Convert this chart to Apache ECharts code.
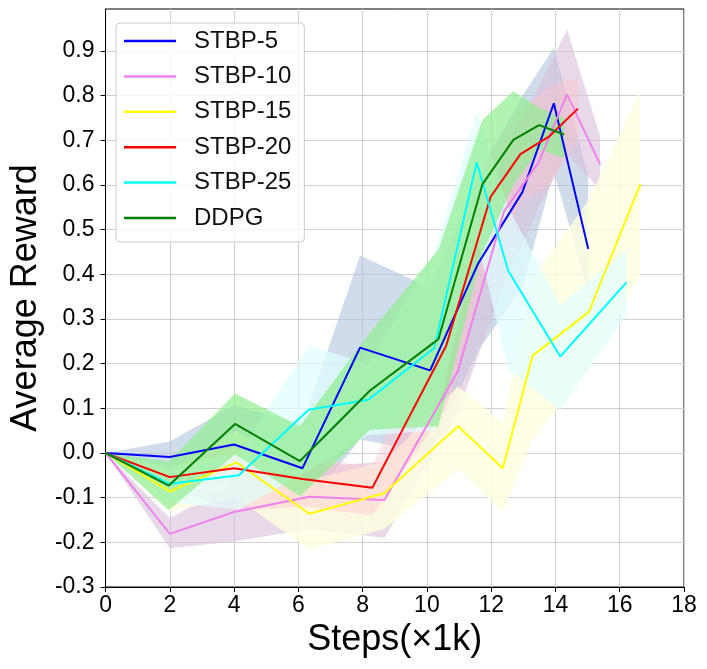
<!DOCTYPE html>
<html>
<head>
<meta charset="utf-8">
<script src="https://cdn.jsdelivr.net/npm/echarts@6/dist/echarts.min.js"></script>
<style>html,body{margin:0;padding:0;background:#fff;}#c{width:707px;height:669px;}</style>
</head>
<body>
<div id="c"></div>
<script>
// ---- data ----
const names = ['STBP-5', 'STBP-10', 'STBP-15', 'STBP-20', 'STBP-25', 'DDPG'];

const x5 = [0, 2, 4, 6.13, 7.92, 10.1, 11.6, 12.97, 13.95, 15.02];
const y5 = [0, -0.009, 0.019, -0.034, 0.236, 0.185, 0.425, 0.584, 0.783, 0.457];
const up5 = [0, 0.026, 0.107, 0.065, 0.442, 0.37, 0.62, 0.80, 0.907, 0.62];
const lo5 = [0, -0.045, -0.07, -0.13, 0.03, 0.0, 0.23, 0.37, 0.63, 0.36];

const x10 = [0, 2, 4, 6.34, 8.68, 10.96, 12.4, 13.48, 14.36, 15.39];
const y10 = [0, -0.181, -0.132, -0.098, -0.105, 0.183, 0.541, 0.651, 0.803, 0.646];
const up10 = [0, -0.146, -0.066, -0.03, -0.02, 0.28, 0.68, 0.82, 0.948, 0.709];
const lo10 = [0, -0.213, -0.198, -0.17, -0.19, 0.09, 0.38, 0.55, 0.67, 0.589];

const x15 = [0, 2, 4.07, 6.34, 8.67, 10.97, 12.36, 13.29, 15.04, 16.64];
const y15 = [0, -0.086, -0.021, -0.136, -0.09, 0.06, -0.034, 0.218, 0.316, 0.602];
const up15 = [0, -0.04, 0.05, -0.06, -0.02, 0.149, 0.068, 0.39, 0.567, 0.81];
const lo15 = [0, -0.13, -0.1, -0.216, -0.17, -0.037, -0.131, 0.03, 0.186, 0.40];

const x20 = [0, 2, 4, 6.13, 8.3, 10.6, 11.98, 12.91, 13.81, 14.7];
const y20 = [0, -0.054, -0.034, -0.058, -0.078, 0.24, 0.573, 0.669, 0.709, 0.771];
const up20 = [0, -0.03, 0.02, -0.01, -0.03, 0.36, 0.68, 0.77, 0.82, 0.84];
const lo20 = [0, -0.08, -0.13, -0.12, -0.14, 0.10, 0.42, 0.56, 0.60, 0.70];

const x25 = [0, 2, 4.15, 6.32, 8.17, 10.23, 11.55, 12.53, 14.15, 16.21];
const y25 = [0, -0.069, -0.05, 0.097, 0.119, 0.235, 0.651, 0.408, 0.216, 0.382];
const up25 = [0, -0.03, 0.0, 0.24, 0.20, 0.448, 0.762, 0.55, 0.33, 0.455];
const lo25 = [0, -0.11, -0.127, -0.04, 0.04, 0.05, 0.48, 0.187, 0.097, 0.31];

const xD = [0, 1.97, 4.03, 6.05, 8.23, 10.36, 11.73, 12.69, 13.49, 14.27];
const yD = [0, -0.073, 0.065, -0.018, 0.14, 0.255, 0.602, 0.701, 0.734, 0.713];
const upD = [0, -0.019, 0.133, 0.06, 0.27, 0.455, 0.746, 0.81, 0.773, 0.75];
const loD = [0, -0.128, -0.003, -0.097, 0.052, 0.06, 0.45, 0.60, 0.68, 0.66];

const xTicks = [0, 2, 4, 6, 8, 10, 12, 14, 16, 18];
const yTicks = [-0.3, -0.2, -0.1, 0.0, 0.1, 0.2, 0.3, 0.4, 0.5, 0.6, 0.7, 0.8, 0.9];

// ---- styles ----
const lineColors = ['#0000ff', '#ee82ee', '#ffff00', '#ff0000', '#00ffff', '#008000'];
const bandColors = ['#b0c4de', '#d8bfd8', '#ffffe0', '#ffc0cb', '#e0ffff', '#90ee90'];
const bandAlpha = [0.6, 0.6, 0.8, 0.4, 0.7, 0.7];

const groups = [
  [x5, y5, up5, lo5],
  [x10, y10, up10, lo10],
  [x15, y15, up15, lo15],
  [x20, y20, up20, lo20],
  [x25, y25, up25, lo25],
  [xD, yD, upD, loD]
];

const FONT = 'Liberation Sans, Arial, sans-serif';
const series = [];

groups.forEach((g, k) => {
  const [xs, ys, ups, los] = g;
  series.push({
    name: names[k] + ' band',
    type: 'custom',
    silent: true,
    z: 1,
    clip: true,
    encode: { x: 0, y: [1, 2] },
    data: xs.map((v, i) => [v, los[i], ups[i]]),
    renderItem: function (params, api) {
      if (params.dataIndex !== 0) return null;
      const pts = [];
      for (let i = 0; i < xs.length; i++) pts.push(api.coord([xs[i], ups[i]]));
      for (let i = xs.length - 1; i >= 0; i--) pts.push(api.coord([xs[i], los[i]]));
      return {
        type: 'polygon',
        shape: { points: pts },
        style: { fill: bandColors[k], opacity: bandAlpha[k] }
      };
    }
  });
});

groups.forEach((g, k) => {
  const [xs, ys] = g;
  series.push({
    name: names[k],
    type: 'line',
    z: 5,
    symbol: 'none',
    data: xs.map((v, i) => [v, ys[i]]),
    lineStyle: { color: lineColors[k], width: 2 },
    itemStyle: { color: lineColors[k] }
  });
});

const chart = echarts.init(document.getElementById('c'), null, { renderer: 'canvas' });
chart.setOption({
  animation: false,
  backgroundColor: '#fff',
  grid: {
    left: 102, right: 23, top: 9, bottom: 82,
    show: true, borderColor: '#000', borderWidth: 1, backgroundColor: 'transparent'
  },
  legend: {
    data: names.map((n, k) => ({ name: n, icon: 'rect', itemStyle: { color: lineColors[k] } })),
    orient: 'vertical',
    left: 116, top: 23,
    itemWidth: 52, itemHeight: 2.5, itemGap: 11.4,
    padding: [6, 13, 12, 8],
    backgroundColor: 'rgba(255,255,255,0.8)',
    borderColor: '#cccccc', borderWidth: 1, borderRadius: 4,
    selectedMode: false,
    textStyle: { fontFamily: FONT, fontSize: 24, color: '#111', lineHeight: 24, padding: [0, 0, 0, 13] }
  },
  xAxis: {
    type: 'value',
    min: xTicks[0], max: xTicks[xTicks.length - 1], interval: 2,
    name: 'Steps(×1k)', nameLocation: 'middle', nameGap: 31,
    nameTextStyle: { fontFamily: FONT, fontSize: 36, color: '#000' },
    axisLine: { show: true, onZero: false, lineStyle: { color: '#000', width: 1 } },
    axisTick: { show: true, length: 5, lineStyle: { color: '#000' } },
    axisLabel: { fontFamily: FONT, fontSize: 23, color: '#000', margin: 7,
      formatter: v => String(Math.round(v)) },
    splitLine: { show: true, lineStyle: { color: '#d0d0d0', width: 1 } }
  },
  yAxis: {
    type: 'value',
    min: -0.3, max: 0.994, interval: 0.1,
    name: 'Average Reward', nameLocation: 'middle', nameGap: 18,
    nameTextStyle: { fontFamily: FONT, fontSize: 36, color: '#000' },
    axisLine: { show: true, onZero: false, lineStyle: { color: '#000', width: 1 } },
    axisTick: { show: true, length: 5, lineStyle: { color: '#000' }, customValues: yTicks },
    axisLabel: { fontFamily: FONT, fontSize: 23, color: '#000', margin: 11, customValues: yTicks,
      formatter: v => {
        const r = Math.round(v * 10) / 10;
        return Math.abs(r) < 1e-9 ? '0.0' : r.toFixed(1);
      } },
    splitLine: { show: true, lineStyle: { color: '#d0d0d0', width: 1 } }
  },
  series: series
});
</script>
</body>
</html>
